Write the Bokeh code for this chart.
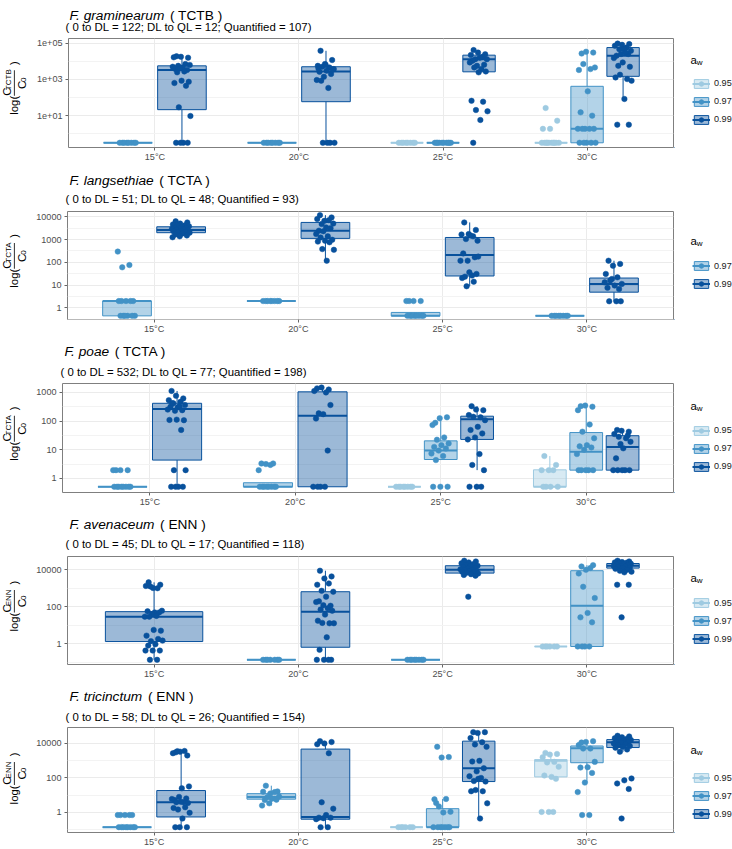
import numpy as np
from bokeh.embed import file_html
from bokeh.layouts import column, row
from bokeh.models import (BoxAnnotation, ColumnDataSource, FixedTicker, Label,
                          Legend, LegendItem, Range1d)
from bokeh.plotting import figure
from bokeh.resources import INLINE

FONT = "Liberation Sans"
TEMPS = ["15°C", "20°C", "25°C", "30°C"]
AW_LEVELS = ["0.95", "0.97", "0.99"]
AW_COLORS = {"0.95": "#9ECAE1", "0.97": "#4292C6", "0.99": "#08519C"}

# ---------------------------------------------------------------------------
# Values are log10(C / C0) per sample, keyed by (temperature, water activity).
# Box statistics: lower whisker, Q1, median, Q3, upper whisker (log10 units).
# ---------------------------------------------------------------------------

# F. graminearum - TCTB
gram_points = {
    ("15°C", "0.97"): [-0.5, -0.5, -0.5, -0.5, -0.5, -0.5, -0.5, -0.5],
    ("15°C", "0.99"): [4.28, 4.2, 4.25, 4.22, 3.85, 3.75, 3.8, 3.66, 3.57, 3.52, 3.6, 3.7,
                       3.44, 3.39, 2.87, 2.93, 2.8, 2.65, 1.46, 0.98, -0.5, -0.5, -0.5, -0.5],
    ("20°C", "0.97"): [-0.5, -0.5, -0.5, -0.5, -0.5, -0.5, -0.5, -0.5],
    ("20°C", "0.99"): [4.58, 4.07, 3.85, 3.75, 3.66, 3.7, 3.57, 3.48, 3.42, 3.3, 3.15, 2.97,
                       2.53, 2.93, 3.55, 3.8, 3.6, -0.5, -0.5, -0.5, -0.5],
    ("25°C", "0.95"): [-0.5, -0.5, -0.5, -0.5, -0.5, -0.5, -0.5, -0.5],
    ("25°C", "0.97"): [-0.5, -0.5, -0.5, -0.5, -0.5, -0.5, -0.5, -0.5, -0.5, -0.5],
    ("25°C", "0.99"): [4.62, 4.39, 4.48, 4.35, 4.25, 4.12, 4.12, 4.2, 4.03, 3.81, 3.75, 3.94,
                       3.57, 3.66, 3.44, 3.39, 1.82, 1.77, 1.31, 1.24, 0.76, -0.5],
    ("30°C", "0.95"): [1.42, 0.72, 0.27, 0.27, -0.5, -0.5, -0.5, -0.5, -0.5, -0.5, -0.5,
                       -0.5, -0.5, -0.5],
    ("30°C", "0.97"): [4.43, 4.48, 4.53, 3.52, 3.57, 3.85, 3.66, 2.34, 1.18, 1.0, 0.27, 0.27,
                       0.27, 0.27, 0.27, -0.5, -0.5, -0.5, -0.5, -0.5],
    ("30°C", "0.99"): [4.98, 4.95, 4.91, 4.86, 4.76, 4.67, 4.58, 4.67, 4.31, 4.4, 4.4, 4.18,
                       4.49, 3.75, 3.7, 3.94, 3.11, 3.02, 3.26, 2.93, 1.92, 0.5, 0.5],
}
gram_boxes = {
    ("15°C", "0.97"): [-0.5, -0.5, -0.5, -0.5, -0.5],
    ("15°C", "0.99"): [-0.5, 1.33, 3.52, 3.75, 4.28],
    ("20°C", "0.97"): [-0.5, -0.5, -0.5, -0.5, -0.5],
    ("20°C", "0.99"): [-0.5, 1.77, 3.44, 3.7, 4.58],
    ("25°C", "0.95"): [-0.5, -0.5, -0.5, -0.5, -0.5],
    ("25°C", "0.97"): [-0.5, -0.5, -0.5, -0.5, -0.5],
    ("25°C", "0.99"): [3.39, 3.42, 4.12, 4.34, 4.62],
    ("30°C", "0.95"): [-0.5, -0.5, -0.5, -0.5, -0.5],
    ("30°C", "0.97"): [-0.5, -0.5, 0.27, 2.62, 4.53],
    ("30°C", "0.99"): [1.92, 3.17, 4.31, 4.76, 4.98],
}

# F. langsethiae - TCTA
lang_points = {
    ("15°C", "0.97"): [0.3, 0.3, 0.3, 0.3, 0.3, -0.35, -0.35, -0.35, -0.35, -0.35, -0.35,
                       2.47, 1.88, 1.78],
    ("15°C", "0.99"): [3.8, 3.75, 3.7, 3.66, 3.62, 3.6, 3.58, 3.55, 3.52, 3.5, 3.48, 3.46,
                       3.44, 3.42, 3.4, 3.38, 3.36, 3.34, 3.32, 3.3, 3.26, 3.22, 3.18, 3.14, 3.1],
    ("20°C", "0.97"): [0.3, 0.3, 0.3, 0.3, 0.3, 0.3, 0.3, 0.3],
    ("20°C", "0.99"): [4.07, 3.97, 3.82, 3.9, 3.85, 3.68, 3.7, 3.53, 3.39, 3.5, 3.36, 3.24,
                       3.14, 3.09, 2.99, 2.95, 2.91, 2.88, 2.58, 2.55, 2.07],
    ("25°C", "0.97"): [-0.35, -0.35, -0.35, -0.35, -0.35, -0.35, -0.35, -0.35,
                       0.3, 0.3, 0.3, 0.3],
    ("25°C", "0.99"): [3.75, 3.42, 3.24, 3.22, 3.14, 3.02, 2.95, 3.18, 2.39, 2.22, 2.07, 2.07,
                       1.42, 1.37, 1.49, 1.56, 1.31, 1.15, 0.95, 2.25],
    ("30°C", "0.97"): [-0.35, -0.35, -0.35, -0.35, -0.35, -0.35, -0.35, -0.35],
    ("30°C", "0.99"): [2.07, 1.93, 1.85, 1.49, 1.34, 1.2, 1.05, 0.98, 0.88, 0.83, 1.27, 1.12,
                       0.29, 0.29, 0.29],
}
lang_boxes = {
    ("15°C", "0.97"): [-0.35, -0.35, 0.3, 0.3, 0.3],
    ("15°C", "0.99"): [3.1, 3.3, 3.42, 3.56, 3.8],
    ("20°C", "0.97"): [0.3, 0.3, 0.3, 0.3, 0.3],
    ("20°C", "0.99"): [2.07, 3.05, 3.39, 3.75, 4.07],
    ("25°C", "0.97"): [-0.35, -0.35, -0.35, -0.2, -0.2],
    ("25°C", "0.99"): [0.95, 1.4, 2.32, 3.09, 3.75],
    ("30°C", "0.97"): [-0.35, -0.35, -0.35, -0.35, -0.35],
    ("30°C", "0.99"): [0.29, 0.69, 1.05, 1.31, 2.07],
}

# F. poae - TCTA
poae_points = {
    ("15°C", "0.97"): [-0.29, -0.29, -0.29, -0.29, -0.29, -0.29, -0.29, -0.29,
                       0.29, 0.29, 0.29, 0.29],
    ("15°C", "0.99"): [3.05, 2.79, 2.88, 2.73, 2.67, 2.62, 2.56, 2.48, 2.5, 2.38, 2.36, 2.4,
                       2.52, 2.62, 2.03, 2.05, 2.04, 1.69, 0.29, 0.29, -0.29, -0.29, -0.29, -0.29],
    ("20°C", "0.97"): [-0.29, -0.29, -0.29, -0.29, -0.29, -0.29, -0.29, -0.29,
                       0.52, 0.52, 0.5, 0.29, 0.47],
    ("20°C", "0.99"): [3.14, 3.1, 3.17, 3.05, 3.0, 2.27, 2.56, 2.24, 2.09, 0.97,
                       -0.29, -0.29, -0.29, -0.29],
    ("25°C", "0.95"): [-0.29, -0.29, -0.29, -0.29, -0.29, -0.29, -0.29, -0.29],
    ("25°C", "0.97"): [1.94, 2.13, 2.1, 1.86, 1.43, 1.35, 1.22, 1.16, 1.1, 1.04, 0.97, 0.87,
                       0.78, 0.64, -0.29, -0.29, -0.29],
    ("25°C", "0.99"): [2.52, 2.38, 2.4, 2.21, 2.13, 2.15, 2.03, 1.8, 1.69, 1.57, 1.43, 1.36,
                       0.85, 0.47, 0.29, -0.29, -0.29, -0.29],
    ("30°C", "0.95"): [0.78, 0.47, 0.29, 0.29, 0.29, -0.29, -0.29, -0.29, -0.29],
    ("30°C", "0.97"): [2.52, 2.5, 2.54, 2.38, 1.88, 1.63, 1.4, 1.16, 1.12, 1.08, 1.0, 0.85,
                       0.29, 0.29, 0.29, 0.29, 0.29],
    ("30°C", "0.99"): [1.69, 1.63, 1.66, 1.55, 1.4, 1.45, 1.28, 1.05, 0.7, 1.5, 1.2,
                       0.29, 0.29, 0.29, 0.29, 0.29],
}
poae_boxes = {
    ("15°C", "0.97"): [-0.29, -0.29, -0.29, -0.29, -0.29],
    ("15°C", "0.99"): [-0.29, 0.64, 2.42, 2.62, 3.05],
    ("20°C", "0.97"): [-0.29, -0.29, -0.29, -0.15, -0.15],
    ("20°C", "0.99"): [-0.29, -0.29, 2.19, 3.02, 3.17],
    ("25°C", "0.95"): [-0.29, -0.29, -0.29, -0.29, -0.29],
    ("25°C", "0.97"): [0.64, 0.66, 0.97, 1.31, 2.13],
    ("25°C", "0.99"): [0.29, 1.36, 2.06, 2.17, 2.52],
    ("30°C", "0.95"): [-0.29, -0.29, -0.29, 0.3, 0.78],
    ("30°C", "0.97"): [0.29, 0.29, 0.93, 1.6, 2.54],
    ("30°C", "0.99"): [0.29, 0.29, 1.1, 1.49, 1.69],
}

# F. avenaceum - ENN
aven_points = {
    ("15°C", "0.99"): [3.32, 3.19, 3.01, 3.12, 3.0, 3.1, 1.78, 1.69, 1.75, 1.69, 1.6, 1.46,
                       1.5, 1.46, 0.7, 0.74, 0.43, 0.25, 0.13, 0.16, -0.04, -0.11, -0.38,
                       -0.38, -0.38, -0.88, -0.88],
    ("20°C", "0.97"): [-0.88, -0.88, -0.88, -0.88, -0.88, -0.88, -0.88],
    ("20°C", "0.99"): [3.95, 3.64, 3.53, 3.19, 3.26, 2.86, 2.81, 2.54, 2.29, 2.05, 2.08, 2.25,
                       1.91, 1.85, 1.78, 1.57, 1.24, 1.1, 1.12, 1.1, 0.34, -0.34,
                       -0.88, -0.88, -0.88, -0.88],
    ("25°C", "0.97"): [-0.88, -0.88, -0.88, -0.88, -0.88, -0.88, -0.88, -0.88],
    ("25°C", "0.99"): [4.49, 4.45, 4.4, 4.35, 4.3, 4.26, 4.22, 4.2, 4.15, 4.1, 4.07, 4.03,
                       4.0, 3.98, 3.95, 3.92, 3.9, 3.87, 3.84, 3.8, 3.76, 3.72, 3.68, 2.54],
    ("30°C", "0.95"): [-0.16, -0.16, -0.16, -0.16, -0.16, -0.16],
    ("30°C", "0.97"): [4.18, 4.25, 4.0, 3.8, 4.1, 3.08, 2.47, 1.66, 1.42, 1.15,
                       -0.16, -0.16, -0.16, -0.16],
    ("30°C", "0.99"): [4.49, 4.45, 4.42, 4.4, 4.38, 4.35, 4.33, 4.3, 4.28, 4.25, 4.22, 4.2,
                       4.18, 4.15, 4.12, 4.1, 4.05, 4.0, 3.95, 3.9, 3.86, 3.19, 3.19, 1.42],
}
aven_boxes = {
    ("15°C", "0.99"): [-0.88, 0.11, 1.46, 1.73, 3.32],
    ("20°C", "0.97"): [-0.88, -0.88, -0.88, -0.88, -0.88],
    ("20°C", "0.99"): [-0.88, -0.2, 1.73, 2.81, 3.95],
    ("25°C", "0.97"): [-0.88, -0.88, -0.88, -0.88, -0.88],
    ("25°C", "0.99"): [3.68, 3.82, 4.0, 4.22, 4.49],
    ("30°C", "0.95"): [-0.16, -0.16, -0.16, -0.16, -0.16],
    ("30°C", "0.97"): [-0.16, -0.16, 2.05, 3.95, 4.25],
    ("30°C", "0.99"): [3.86, 4.09, 4.22, 4.34, 4.49],
}

# F. tricinctum - ENN
tric_points = {
    ("15°C", "0.97"): [-0.85, -0.85, -0.85, -0.85, -0.85, -0.85, -0.85, -0.85,
                       -0.15, -0.15, -0.15, -0.15, -0.15],
    ("15°C", "0.99"): [3.48, 3.3, 3.52, 3.43, 3.56, 3.55, 1.51, 1.4, 0.72, 0.81, 0.9, 0.78,
                       0.59, 0.59, 0.55, 0.62, 0.26, 0.3, 0.17, -0.02, -0.35,
                       -0.85, -0.85, -0.85],
    ("20°C", "0.97"): [1.55, 1.22, 1.1, 1.2, 1.18, 0.9, 0.92, 0.8, 0.72, 0.74, 0.53, 0.4],
    ("20°C", "0.99"): [4.13, 4.08, 4.0, 3.95, 3.43, 0.59, 0.22, -0.15, -0.3, -0.3, -0.33,
                       -0.39, -0.85, -0.85],
    ("25°C", "0.95"): [-0.85, -0.85, -0.85, -0.85, -0.85, -0.85],
    ("25°C", "0.97"): [3.8, 3.21, 3.18, 0.76, 0.78, 0.35, 0.04, 0.0, 0.55,
                       -0.85, -0.85, -0.85, -0.85, -0.85, -0.85, -0.85],
    ("25°C", "0.99"): [4.65, 4.65, 4.6, 4.31, 4.07, 3.94, 3.8, 2.99, 2.95, 2.56, 2.38, 2.1,
                       2.0, 1.82, 1.79, 1.95, 1.23, 1.23, 1.3, 0.53, -0.35],
    ("30°C", "0.95"): [3.45, 3.39, 3.35, 3.2, 2.93, 2.9, 2.65, 2.06, 2.14, 1.95,
                       0.03, 0.03, 0.03],
    ("30°C", "0.97"): [4.05, 4.13, 4.08, 3.9, 3.7, 3.7, 2.93, 2.62, 2.6, 2.29, 1.73, 1.18,
                       -0.15, -0.15],
    ("30°C", "0.99"): [4.44, 4.4, 4.35, 4.3, 4.25, 4.22, 4.2, 4.15, 4.1, 4.07, 4.05, 4.0,
                       3.95, 3.9, 3.85, 3.8, 3.75, 3.65, 3.52, 1.97, 1.86, 1.68, 1.36, -0.35],
}
tric_boxes = {
    ("15°C", "0.97"): [-0.85, -0.85, -0.85, -0.85, -0.85],
    ("15°C", "0.99"): [-0.85, -0.26, 0.59, 1.27, 3.56],
    ("20°C", "0.97"): [0.4, 0.77, 0.9, 1.09, 1.55],
    ("20°C", "0.99"): [-0.85, -0.39, -0.26, 3.67, 4.13],
    ("25°C", "0.95"): [-0.85, -0.85, -0.85, -0.85, -0.85],
    ("25°C", "0.97"): [-0.85, -0.85, -0.85, 0.22, 0.78],
    ("25°C", "0.99"): [-0.35, 1.79, 2.56, 4.13, 4.65],
    ("30°C", "0.95"): [1.95, 2.06, 2.99, 3.06, 3.45],
    ("30°C", "0.97"): [1.73, 2.88, 3.72, 3.85, 4.13],
    ("30°C", "0.99"): [3.52, 3.76, 4.07, 4.22, 4.44],
}

PANELS = [
    dict(species="F. graminearum", toxin="TCTB",
         counts="( 0 to DL = 122; DL to QL = 12; Quantified = 107)",
         points=gram_points, boxes=gram_boxes, ylim=(-0.76, 5.26),
         major=[1, 3, 5], labels=["1e+01", "1e+03", "1e+05"], minor=[0, 2, 4]),
    dict(species="F. langsethiae", toxin="TCTA",
         counts="( 0 to DL = 51; DL to QL = 48; Quantified = 93)",
         points=lang_points, boxes=lang_boxes, ylim=(-0.51, 4.23),
         major=[0, 1, 2, 3, 4], labels=["1", "10", "100", "1000", "10000"],
         minor=[-0.5, 0.5, 1.5, 2.5, 3.5]),
    dict(species="F. poae", toxin="TCTA",
         counts="( 0 to DL = 532; DL to QL = 77; Quantified = 198)",
         points=poae_points, boxes=poae_boxes, ylim=(-0.49, 3.31),
         major=[0, 1, 2, 3], labels=["1", "10", "100", "1000"],
         minor=[0.5, 1.5, 2.5]),
    dict(species="F. avenaceum", toxin="ENN",
         counts="( 0 to DL = 45; DL to QL = 17; Quantified = 118)",
         points=aven_points, boxes=aven_boxes, ylim=(-1.135, 4.72),
         major=[0, 2, 4], labels=["1", "100", "10000"], minor=[-1, 1, 3]),
    dict(species="F. tricinctum", toxin="ENN",
         counts="( 0 to DL = 58; DL to QL = 26; Quantified = 154)",
         points=tric_points, boxes=tric_boxes, ylim=(-1.16, 4.92),
         major=[0, 2, 4], labels=["1", "100", "10000"], minor=[-1, 1, 3]),
]

# page geometry of each panel: left edge of the frame, space above it, frame height,
# space below it, and offsets of title / subtitle above the frame
LAYOUT = [
    dict(left=65, top=38, fh=109, bottom=23, title_dy=23, sub_dy=12),
    dict(left=65, top=41, fh=108, bottom=22, title_dy=31, sub_dy=13),
    dict(left=60, top=42, fh=109, bottom=21, title_dy=32, sub_dy=12),
    dict(left=65, top=43, fh=108, bottom=21, title_dy=32, sub_dy=13),
    dict(left=65, top=42, fh=108, bottom=14, title_dy=31, sub_dy=11),
]
PAGE_W = 732
FRAME_RIGHT = 673
YLAB_W = 33
LEG_W = PAGE_W - FRAME_RIGHT - 1
JITTER = 0.065
LEGEND_DROP = 23  # vertical correction for the legend block placement

CHAR_EM = {" ": .278, "(": .333, ")": .333, ".": .278, "F": .611, "C": .722, "T": .611,
           "B": .667, "A": .667, "E": .667, "N": .722, "0": .556, "l": .222, "o": .556,
           "g": .556, "a": .556, "c": .5, "e": .556, "h": .556, "i": .222, "m": .833,
           "n": .556, "p": .556, "r": .333, "s": .5, "t": .278, "u": .556, "v": .5,
           "w": .722}


def text_w(s, size):
    return sum(CHAR_EM.get(ch, 0.556) for ch in s) * size


def canvas(width, height):
    """A bare drawing surface whose data units are pixels (y pointing up)."""
    c = figure(width=width, height=height, x_range=Range1d(0, width),
               y_range=Range1d(0, height), x_axis_location=None, y_axis_location=None,
               output_backend="svg", toolbar_location=None, min_border=0)
    c.outline_line_color = None
    c.grid.visible = False
    c.background_fill_color = "white"
    c.border_fill_color = "white"
    return c


def add_text(p, x, y, text, size, **kw):
    kw.setdefault("text_color", "#000000")
    p.add_layout(Label(x=x, y=y, text=text, text_font=FONT,
                       text_font_size=f"{size}px", **kw))


def build_panel(spec, geo):
    left, top, fh, bottom = geo["left"], geo["top"], geo["fh"], geo["bottom"]
    fw = FRAME_RIGHT - left
    row_h = 1 + fh + bottom

    # ---- header: italic species name, toxin and detection counts
    head = canvas(PAGE_W, top - 1)
    ty = geo["title_dy"] - 1
    add_text(head, left + 4, ty, spec["species"], 13.7, text_font_style="italic",
             text_baseline="middle")
    add_text(head, left + 4 + text_w(spec["species"] + " ", 13.7), ty,
             f"( {spec['toxin']} )", 13.7, text_baseline="middle")
    add_text(head, left, geo["sub_dy"] - 1, spec["counts"], 11.4, text_baseline="middle")

    # ---- main panel
    lo, hi = spec["ylim"]
    p = figure(width=left - YLAB_W + fw + 1, height=row_h,
               x_range=Range1d(0.4, 4.6), y_range=Range1d(10 ** lo, 10 ** hi),
               y_axis_type="log", output_backend="svg", toolbar_location=None,
               min_border_left=left - YLAB_W, min_border_right=1,
               min_border_top=1, min_border_bottom=bottom)
    p.background_fill_color = "white"
    p.border_fill_color = "white"
    p.outline_line_color = "#7F7F7F"
    p.outline_line_width = 1

    p.xaxis.ticker = FixedTicker(ticks=[1, 2, 3, 4])
    p.xaxis.major_label_overrides = {i + 1: t for i, t in enumerate(TEMPS)}
    p.yaxis.ticker = FixedTicker(ticks=[10.0 ** e for e in spec["major"]],
                                 minor_ticks=[10.0 ** e for e in spec["minor"]])
    p.yaxis.major_label_overrides = {10.0 ** e: lab
                                     for e, lab in zip(spec["major"], spec["labels"])}
    for ax in (p.xaxis, p.yaxis):
        ax.axis_line_color = None
        ax.major_tick_line_color = "#666666"
        ax.major_tick_out = 3
        ax.major_tick_in = 0
        ax.minor_tick_line_color = None
        ax.major_label_text_font = FONT
        ax.major_label_text_font_size = "9.1px"
        ax.major_label_text_color = "#4D4D4D"
        ax.major_label_standoff = 2
    p.xaxis.major_label_standoff = 1
    p.xgrid.grid_line_color = "#EBEBEB"
    p.ygrid.grid_line_color = "#EBEBEB"
    p.ygrid.minor_grid_line_color = "#F3F3F3"

    levels_in_panel = [a for a in AW_LEVELS if any(k[1] == a for k in spec["boxes"])]
    point_sources = {}
    for aw in levels_in_panel:
        col = AW_COLORS[aw]
        b = dict(x=[], x0=[], x1=[], lo=[], q1=[], med=[], q3=[], hi=[], w=[])
        wsk = dict(x=[], y0=[], y1=[])
        pts = dict(x=[], y=[])
        for ti, t in enumerate(TEMPS):
            present = [a for a in AW_LEVELS if (t, a) in spec["boxes"]]
            if aw not in present:
                continue
            n = len(present)
            slot = 0.75 / n
            xc = ti + 1 + (present.index(aw) - (n - 1) / 2) * slot
            w = slot * 0.9
            s_lo, s_q1, s_med, s_q3, s_hi = (10.0 ** v for v in spec["boxes"][(t, aw)])
            b["x"].append(xc); b["w"].append(w)
            b["x0"].append(xc - w / 2); b["x1"].append(xc + w / 2)
            b["lo"].append(s_lo); b["q1"].append(s_q1); b["med"].append(s_med)
            b["q3"].append(s_q3); b["hi"].append(s_hi)
            wsk["x"] += [xc, xc]
            wsk["y0"] += [s_q3, s_q1]
            wsk["y1"] += [s_hi, s_lo]
            vals = np.array(spec["points"][(t, aw)], dtype=float)
            offs = ((np.arange(len(vals)) * 0.618034 + 0.21) % 1.0 - 0.5) * 2 * JITTER
            pts["x"] += list(xc + offs)
            pts["y"] += list(10.0 ** vals)
        bsrc = ColumnDataSource(b)
        p.segment(x0="x", y0="y0", x1="x", y1="y1", source=ColumnDataSource(wsk),
                  line_color=col, line_width=1)
        p.vbar(x="x", width="w", top="q3", bottom="q1", source=bsrc,
               fill_color=col, fill_alpha=0.4, line_color=col, line_width=1)
        p.segment(x0="x0", y0="med", x1="x1", y1="med", source=bsrc,
                  line_color=col, line_width=2)
        point_sources[aw] = ColumnDataSource(pts)
    for aw in levels_in_panel:
        col = AW_COLORS[aw]
        p.scatter(x="x", y="y", source=point_sources[aw], size=5.5, fill_color=col,
                  line_color=col, line_width=0.5)

    # ---- y axis title: log( C_toxin / C_0 ), rotated; every piece is centred on
    # its own anchor so that it reads bottom-to-top along the panel's middle
    yl = canvas(YLAB_W, row_h)
    rot = dict(angle=np.pi / 2, text_align="center", text_baseline="middle")
    yc = row_h - 1 - fh / 2 - 4
    w_log = text_w("log(", 11.4)
    w_c = text_w("C", 11.4)
    w_sub = text_w(spec["toxin"], 8)
    w_zero = text_w("0", 8)
    w_par = text_w(")", 11.4)
    w_num = w_c + w_sub
    w_den = w_c + w_zero
    bar = w_num + 2
    total = w_log + 2 + bar + 7 + w_par
    s0 = yc - total / 2
    add_text(yl, 13, s0 + w_log / 2, "log(", 11.4, **rot)
    b0 = s0 + w_log + 2
    yl.add_layout(BoxAnnotation(left=13.4, right=14.3, bottom=b0, top=b0 + bar,
                                fill_color="#1A1A1A", fill_alpha=1, line_color=None))
    n0 = b0 + (bar - w_num) / 2
    add_text(yl, 6, n0 + w_c / 2, "C", 11.4, **rot)
    add_text(yl, 7.5, n0 + w_c + w_sub / 2, spec["toxin"], 8, **rot)
    d0 = b0 + (bar - w_den) / 2
    add_text(yl, 21.5, d0 + w_c / 2, "C", 11.4, **rot)
    add_text(yl, 23.2, d0 + w_c + w_zero / 2, "0", 8, **rot)
    add_text(yl, 13, b0 + bar + 7 + w_par / 2, ")", 11.4, **rot)

    # ---- legend for water activity (keys mirror the box, median and point styles);
    # the key glyphs carry a single sample parked outside the visible area
    lg = canvas(LEG_W, row_h)
    items = []
    for aw in levels_in_panel:
        col = AW_COLORS[aw]
        kb = lg.vbar(x=[-50], width=5, top=[-50], bottom=[-60], fill_color=col,
                     fill_alpha=0.4, line_color=col, line_width=1)
        km = lg.segment(x0=[-60], y0=[-50], x1=[-40], y1=[-50], line_color=col,
                        line_width=2)
        kp = lg.scatter(x=[-50], y=[-50], size=5.5, fill_color=col, line_color=col)
        items.append(LegendItem(label=aw, renderers=[kb, km, kp]))
    n_items = len(items)
    item_h, gap = 11, 7
    leg_h = n_items * item_h + (n_items - 1) * gap
    centre = row_h - 1 - fh / 2
    vy = centre - 8.75 - leg_h / 2
    x_key = 692 - (FRAME_RIGHT + 1)
    lg.add_layout(Legend(
        items=items, location=(x_key, vy - LEGEND_DROP), orientation="vertical",
        glyph_width=18, glyph_height=item_h, label_height=item_h, spacing=gap,
        padding=0, margin=0, label_standoff=4,
        label_text_font=FONT, label_text_font_size="9.1px", label_text_color="#1A1A1A",
        background_fill_alpha=0, border_line_alpha=0))
    key1 = vy + leg_h - item_h / 2
    add_text(lg, x_key - 2, key1 + 19.5, "a", 11.4, text_baseline="middle")
    add_text(lg, x_key - 2 + text_w("a", 11.4), key1 + 16.5, "w", 8,
             text_baseline="middle")

    return column(head, row(yl, p, lg, spacing=0), spacing=0)


panels = [build_panel(spec, geo) for spec, geo in zip(PANELS, LAYOUT)]
page = column(*panels, spacing=0)
open("out.html", "w").write(file_html(page, INLINE))
